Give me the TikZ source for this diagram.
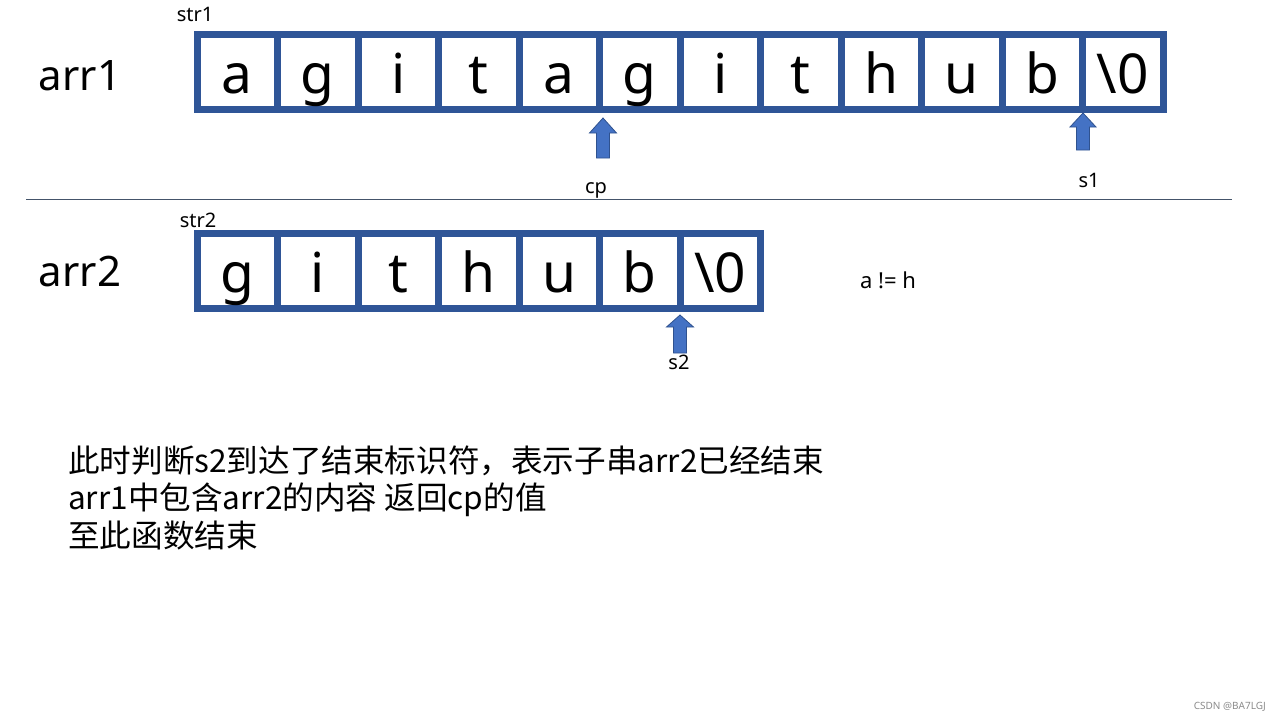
\documentclass[tikz,border=0pt]{standalone}
\usepackage{fontspec}
\setmainfont{Noto Sans}
\newfontfamily\cjk{Noto Sans CJK SC}
\usetikzlibrary{calc}
\definecolor{boxblue}{RGB}{47,85,151}
\definecolor{arrfill}{RGB}{68,114,196}
\definecolor{arredge}{RGB}{47,82,143}
\definecolor{sepline}{RGB}{68,84,106}
\tikzset{
  cellbox/.style={draw=boxblue, line width=7pt, minimum width=80.5pt, minimum height=75pt,
    inner sep=0pt, text height=43pt, text depth=0pt, font=\fontsize{55}{60}\selectfont},
  arrlabel/.style={anchor=base, inner sep=0pt, font=\fontsize{42}{46}\selectfont},
  smalllabel/.style={anchor=base, inner sep=0pt, font=\fontsize{20}{24}\selectfont},
  ptrarrow/.style={draw=arredge, line width=0.8pt, fill=arrfill},
  bodytext/.style={anchor=base west, inner sep=0pt, font=\cjk\fontsize{31.6}{36}\selectfont},
}
\begin{document}
\begin{tikzpicture}[x=1pt,y=-1pt]
\useasboundingbox (0,0) rectangle (1280,720);
\fill[white] (0,0) rectangle (1280,720);

% row labels
\node[arrlabel] (arrA) at (80,90) {arr1};
\node[arrlabel] (arrB) at (80,286) {arr2};
\node[smalllabel] (str1) at (195,21) {str1};
\node[smalllabel] (str2) at (198,227) {str2};

% arr1 cells
\foreach \ch [count=\i from 0] in {a,g,i,t,a,g,i,t,h,u,b,{\textbackslash0}}
  \node[cellbox] (A\i) at ({197+80.5*(\i+0.5)},71.5) {\ch};
% arr2 cells
\foreach \ch [count=\i from 0] in {g,i,t,h,u,b,{\textbackslash0}}
  \node[cellbox] (B\i) at ({197+80.5*(\i+0.5)},271) {\ch};

% pointer arrows
\coordinate (cpTip) at (603,118);
\draw[ptrarrow] (cpTip) -- ++(13.5,15) -- ++(-7,0) -- ++(0,25) -- ++(-13,0) -- ++(0,-25) -- ++(-7,0) -- cycle;
\coordinate (s1Tip) at (1083,113);
\draw[ptrarrow] (s1Tip) -- ++(13,14) -- ++(-6.5,0) -- ++(0,23) -- ++(-13,0) -- ++(0,-23) -- ++(-6.5,0) -- cycle;
\coordinate (s2Tip) at (680,315);
\draw[ptrarrow] (s2Tip) -- ++(13.5,12) -- ++(-7,0) -- ++(0,26) -- ++(-13,0) -- ++(0,-26) -- ++(-7,0) -- cycle;

\node[smalllabel] (cp) at (596,193) {cp};
\node[smalllabel] (s1) at (1089,187) {s1};
\node[smalllabel] (s2) at (679,369) {s2};
\node[anchor=base, inner sep=0pt, font=\fontsize{22}{24}\selectfont] (neq) at (888,288) {a != h};

% separator
\coordinate (sepL) at (26,199);
\coordinate (sepR) at (1232,199);
\draw[sepline, line width=1pt] (sepL) -- (sepR);

% explanation
\node[bodytext] (t1) at (68,472) {此时判断s2到达了结束标识符，表示子串arr2已经结束};
\node[bodytext] (t2) at (68,509) {arr1中包含arr2的内容 返回cp的值};
\node[bodytext] (t3) at (68,547) {至此函数结束};

\node[anchor=base east, inner sep=0pt, text=black!45, font=\fontsize{10}{12}\selectfont] (wm) at (1266,709) {CSDN @BA7LGJ};
\end{tikzpicture}
\end{document}
